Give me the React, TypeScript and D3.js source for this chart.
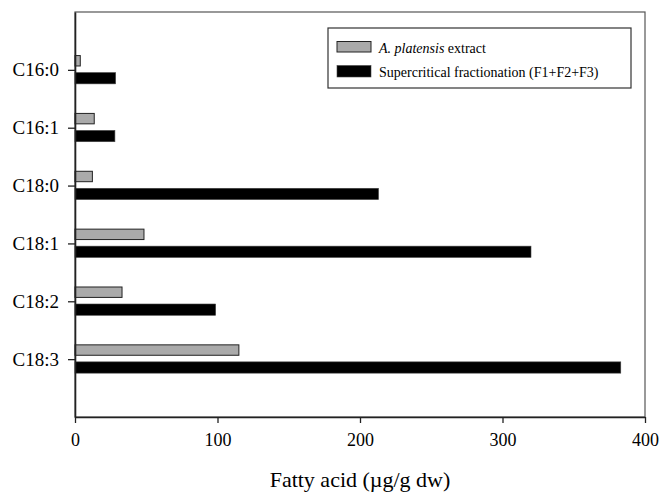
import { useEffect, useRef } from 'react';
import * as d3 from 'd3';

const categories = ['C16:0', 'C16:1', 'C18:0', 'C18:1', 'C18:2', 'C18:3'];
const extractValues = [3.7, 13.5, 12.2, 48.4, 33, 115];
const fractionValues = [28.5, 28, 213, 320, 98.7, 383];
const xTicks = [0, 100, 200, 300, 400];
const seriesNames = ['A. platensis', 'Supercritical fractionation (F1+F2+F3)'];

const width = 661;
const height = 494;
const margin = { top: 12, right: 16, bottom: 77, left: 75 };
const serif = '"Liberation Serif", "Times New Roman", serif';

export default function App() {
  const svgRef = useRef<SVGSVGElement>(null);

  useEffect(() => {
    document.body.style.margin = '0';
    if (!svgRef.current) return;
    const svg = d3.select(svgRef.current);
    svg.selectAll('*').remove();

    const innerW = width - margin.left - margin.right;
    const innerH = height - margin.top - margin.bottom;

    const x = d3.scaleLinear().domain([0, 400]).range([0, innerW]);
    // categories sit at 1..6 on a 0..7 scale
    const y = d3.scaleLinear().domain([0, 7]).range([0, innerH]);
    const step = y(1) - y(0);

    const g = svg.append('g')
      .attr('transform', `translate(${margin.left},${margin.top})`);

    // frame (top & right)
    g.append('rect')
      .attr('x', 0).attr('y', 0)
      .attr('width', innerW).attr('height', innerH)
      .attr('fill', 'none')
      .attr('stroke', '#555')
      .attr('stroke-width', 1.2);

    // bars
    categories.forEach((c, i) => {
      const cy = y(i + 1);
      g.append('rect')
        .attr('x', x(0))
        .attr('y', cy - step * 0.247)
        .attr('width', x(extractValues[i]) - x(0))
        .attr('height', step * 0.18)
        .attr('fill', '#aaaaaa')
        .attr('stroke', '#222')
        .attr('stroke-width', 1);
      g.append('rect')
        .attr('x', x(0))
        .attr('y', cy + step * 0.047)
        .attr('width', x(fractionValues[i]) - x(0))
        .attr('height', step * 0.195)
        .attr('fill', '#000')
        .attr('stroke', '#444')
        .attr('stroke-width', 0.6);
    });

    // y axis
    const yAxis = g.append('g')
      .call(d3.axisLeft(y)
        .tickValues(categories.map((_, i) => i + 1))
        .tickFormat((d) => categories[(d as number) - 1])
        .tickSize(7)
        .tickSizeOuter(0)
        .tickPadding(9));
    yAxis.select('.domain').attr('stroke', '#222').attr('stroke-width', 1.6);
    yAxis.selectAll('.tick line').attr('stroke', '#222').attr('stroke-width', 1.3);
    yAxis.selectAll('text')
      .attr('fill', '#000')
      .style('font-family', serif)
      .style('font-size', '19px');

    // x axis
    const xAxis = g.append('g')
      .attr('transform', `translate(0,${innerH})`)
      .call(d3.axisBottom(x)
        .tickValues(xTicks)
        .tickFormat(d3.format('d'))
        .tickSize(6)
        .tickSizeOuter(0)
        .tickPadding(10));
    xAxis.select('.domain').attr('stroke', '#222').attr('stroke-width', 1.6);
    xAxis.selectAll('.tick line').attr('stroke', '#222').attr('stroke-width', 1.3);
    xAxis.selectAll('text')
      .attr('fill', '#000')
      .style('font-family', serif)
      .style('font-size', '18px');

    // x title
    svg.append('text')
      .attr('x', margin.left + innerW / 2)
      .attr('y', 487)
      .attr('text-anchor', 'middle')
      .style('font-family', serif)
      .style('font-size', '22px')
      .text('Fatty acid (\u00b5g/g dw)');

    // legend
    const lg = svg.append('g').attr('transform', 'translate(328,28)');
    lg.append('rect')
      .attr('width', 303).attr('height', 60)
      .attr('fill', '#fff')
      .attr('stroke', '#333')
      .attr('stroke-width', 1.2);
    lg.append('rect')
      .attr('x', 9).attr('y', 13.5)
      .attr('width', 34).attr('height', 10.5)
      .attr('fill', '#aaaaaa').attr('stroke', '#222');
    lg.append('rect')
      .attr('x', 9).attr('y', 37.5)
      .attr('width', 34).attr('height', 11.5)
      .attr('fill', '#000').attr('stroke', '#444').attr('stroke-width', 0.6);
    const t1 = lg.append('text')
      .attr('x', 51).attr('y', 24.5)
      .style('font-family', serif)
      .style('font-size', '14px');
    t1.append('tspan').style('font-style', 'italic').text(seriesNames[0]);
    t1.append('tspan').text(' extract');
    lg.append('text')
      .attr('x', 51).attr('y', 48.5)
      .style('font-family', serif)
      .style('font-size', '14px')
      .text(seriesNames[1]);
  }, []);

  return <svg ref={svgRef} width={width} height={height} style={{ display: 'block' }} />;
}
